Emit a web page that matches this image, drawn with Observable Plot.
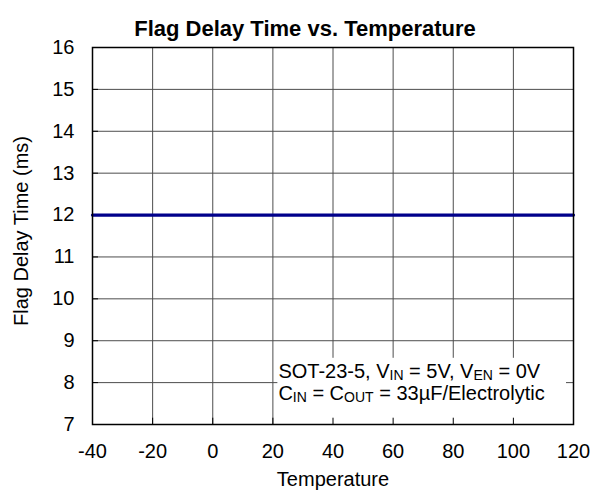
<!DOCTYPE html>
<html>
<head>
<meta charset="utf-8">
<script src="https://cdn.jsdelivr.net/npm/d3@7"></script>
<script src="https://cdn.jsdelivr.net/npm/@observablehq/plot@0.6"></script>
<style>
  html, body { margin: 0; padding: 0; background: #fff; }
  svg { font-family: "Liberation Sans", Arial, sans-serif; }
</style>
</head>
<body>
<div id="chart"></div>
<script>
// Data
const temperature = [-40, -20, 0, 20, 40, 60, 80, 100, 120];
const flagDelay   = [12, 12, 12, 12, 12, 12, 12, 12, 12];
const xTicks = [-40, -20, 0, 20, 40, 60, 80, 100, 120];
const yTicks = [7, 8, 9, 10, 11, 12, 13, 14, 15, 16];
const titleText = "Flag Delay Time vs. Temperature";
const xLabel = "Temperature";
const yLabel = "Flag Delay Time (ms)";
const legendBox = [{x1: 20, x2: 120, y1: 7, y2: 8.7}];

const data = temperature.map((t, i) => ({t, v: flagDelay[i]}));

const plot = Plot.plot({
  width: 592,
  height: 497,
  marginLeft: 92,
  marginRight: 19,
  marginTop: 47,
  marginBottom: 73,
  style: {fontFamily: "'Liberation Sans', Arial, sans-serif", fontSize: "20px", color: "#000", background: "#fff"},
  x: {domain: [-40, 120], ticks: xTicks, label: null},
  y: {domain: [7, 16], ticks: yTicks, label: null},
  marks: [
    Plot.gridX(xTicks, {stroke: "#4d4d4d", strokeOpacity: 1, strokeWidth: 1}),
    Plot.gridY(yTicks, {stroke: "#4d4d4d", strokeOpacity: 1, strokeWidth: 1}),
    Plot.rect(legendBox, {x1: "x1", x2: "x2", y1: "y1", y2: "y2", fill: "white", insetLeft: 5, insetRight: 7, insetTop: 5, insetBottom: 0}),
    Plot.ruleY(yTicks, {x1: -40, x2: -38, stroke: "#000", strokeWidth: 1}),
    Plot.ruleX(xTicks, {y1: 7, y2: 7.15, stroke: "#000", strokeWidth: 1}),
    Plot.line(data, {x: "t", y: "v", stroke: "#00008b", strokeWidth: 3.2}),
    Plot.frame({stroke: "#000", strokeWidth: 1.5}),
    Plot.axisX(xTicks, {tickSize: 0, tickPadding: 19, fontSize: 20, tickFormat: d => String(d), label: null}),
    Plot.axisY(yTicks, {tickSize: 0, tickPadding: 18, fontSize: 20, tickFormat: d => String(d), label: null}),
    Plot.text([titleText], {frameAnchor: "top", dy: -27, dx: -28, fontSize: 22, fontWeight: "bold", fill: "#000"}),
    Plot.text([xLabel], {frameAnchor: "bottom", dy: 61, fontSize: 20, fill: "#000"}),
    Plot.text([yLabel], {frameAnchor: "left", textAnchor: "middle", dx: -71, dy: -5, rotate: -90, fontSize: 20, fill: "#000"})
  ]
});

document.getElementById("chart").appendChild(plot);

// Legend text with subscripts, positioned through the plot's scales
const sx = plot.scale("x"), sy = plot.scale("y");
const lx = sx.apply(20) + 6;
const ly1 = sy.apply(8) - 4;
const ly2 = ly1 + 22;
const svg = d3.select(plot);
const g = svg.append("g").attr("font-size", 20).attr("fill", "#000").attr("text-anchor", "start")
  .attr("font-family", "'Liberation Sans', Arial, sans-serif");
const legendLines = [
  [["SOT-23-5, V", false], ["IN", true], [" = 5V, V", false], ["EN", true], [" = 0V", false]],
  [["C", false], ["IN", true], [" = C", false], ["OUT", true], [" = 33\u00B5F/Electrolytic", false]]
];
[ly1, ly2].forEach((y, i) => {
  const t = g.append("text").attr("x", lx).attr("y", y).attr("text-anchor", "start")
    .attr("xml:space", "preserve").style("white-space", "pre");
  legendLines[i].forEach(([s, sub], j) => {
    const ts = t.append("tspan").text(s);
    if (sub) ts.attr("font-size", 14).attr("dy", 2);
    else if (j > 0) ts.attr("dy", -2);
  });
});
</script>
</body>
</html>
